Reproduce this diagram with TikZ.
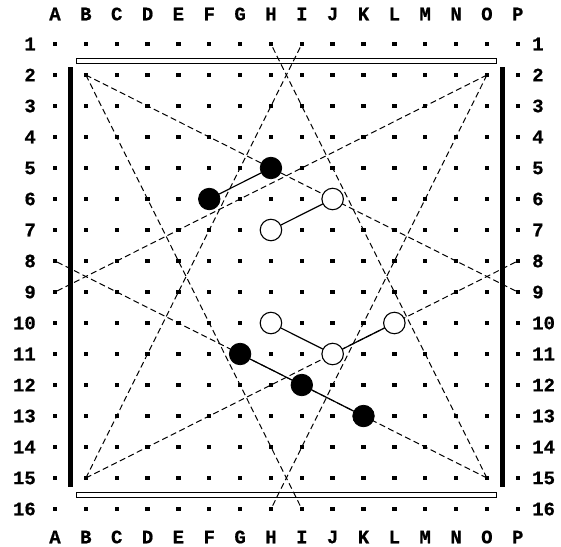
\documentclass[tikz,border=0pt]{standalone}
\usepackage{fontspec}
\newfontfamily\lbl{Liberation Mono}[BoldFeatures={FakeBold=0.6}]
\begin{document}
\begin{tikzpicture}[x=1pt,y=-1pt,
  lab/.style={inner sep=0pt,font=\fontsize{19}{19}\selectfont\lbl\bfseries},
  gdot/.style={rectangle,fill=black,inner sep=0pt,minimum size=4.4pt},
  diag/.style={line width=1pt,dash pattern=on 6pt off 3.5pt},
  bar/.style={line width=5.5pt},
  rail/.style={line width=1pt},
  link/.style={line width=1.2pt},
  bstone/.style={circle,fill=black,draw=black,line width=0.8pt,minimum size=21.5pt,inner sep=0pt},
  wstone/.style={circle,fill=white,draw=black,line width=1.1pt,minimum size=21.5pt,inner sep=0pt}]
\useasboundingbox (0,0) rectangle (561,546);
% column letters
\foreach \i/\L in {1/A,2/B,3/C,4/D,5/E,6/F,7/G,8/H,9/I,10/J,11/K,12/L,13/M,14/N,15/O,16/P} {
  \pgfmathsetmacro\xx{55+(\i-1)*30.85}
  \node[lab] (top-\L) at (\xx,14) {\L};
  \node[lab] (bot-\L) at (\xx,537) {\L};
}
% row numbers
\foreach \j in {1,...,16} {
  \pgfmathsetmacro\yy{44+(\j-1)*31}
  \node[lab,anchor=east] (ln\j) at (36,\yy) {\j};
  \node[lab,anchor=west] (rn\j) at (532,\yy) {\j};
}
% grid dots
\foreach \i in {1,...,16} {
  \foreach \j in {1,...,16} {
    \pgfmathsetmacro\xx{55+(\i-1)*30.85}
    \pgfmathsetmacro\yy{44+(\j-1)*31}
    \node[gdot] (d-\i-\j) at (\xx,\yy) {};
  }
}
% rails
\draw[rail] (76,58.5) rectangle (496,63.5);
\draw[rail] (76,492.5) rectangle (496,497.5);
\coordinate (lbt) at (70.4,67);
\coordinate (lbb) at (70.4,487);
\coordinate (rbt) at (502.6,67);
\coordinate (rbb) at (502.6,487);
\draw[bar] (lbt) -- (lbb);
\draw[bar] (rbt) -- (rbb);
% dashed lines
\draw[diag] (d-2-2.center) -- (d-16-9.center);
\draw[diag] (d-15-2.center) -- (d-1-9.center);
\draw[diag] (d-2-15.center) -- (d-16-8.center);
\draw[diag] (d-15-15.center) -- (d-1-8.center);
\draw[diag] (d-2-2.center) -- (d-9-16.center);
\draw[diag] (d-15-2.center) -- (d-8-16.center);
\draw[diag] (d-2-15.center) -- (d-9-1.center);
\draw[diag] (d-15-15.center) -- (d-8-1.center);
% stones
\node[bstone] (bH5) at (d-8-5) {};
\node[bstone] (bF6) at (d-6-6) {};
\node[bstone] (bG11) at (d-7-11) {};
\node[bstone] (bI12) at (d-9-12) {};
\node[bstone] (bK13) at (d-11-13) {};
\node[wstone] (wJ6) at (d-10-6) {};
\node[wstone] (wH7) at (d-8-7) {};
\node[wstone] (wH10) at (d-8-10) {};
\node[wstone] (wJ11) at (d-10-11) {};
\node[wstone] (wL10) at (d-12-10) {};
% links
\draw[link] (bF6) -- (bH5);
\draw[link] (bG11) -- (bI12) -- (bK13);
\draw[link] (wH7) -- (wJ6);
\draw[link] (wH10) -- (wJ11) -- (wL10);
\end{tikzpicture}
\end{document}
